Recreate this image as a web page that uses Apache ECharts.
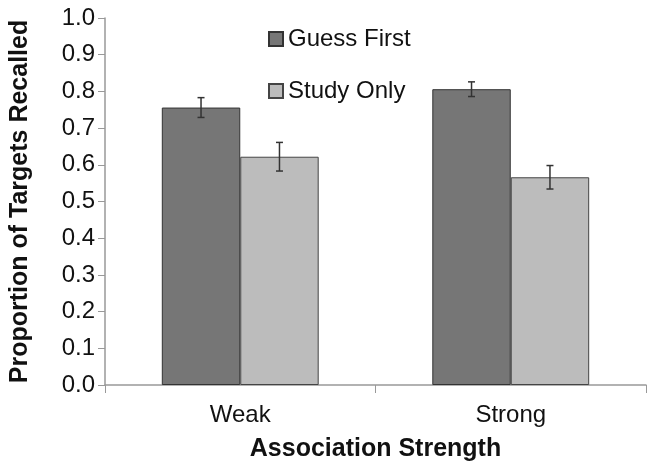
<!DOCTYPE html>
<html>
<head>
<meta charset="utf-8">
<script src="https://cdn.jsdelivr.net/npm/echarts@6/dist/echarts.min.js"></script>
<style>html,body{margin:0;padding:0;background:#fff;}#c{width:647px;height:467px;}</style>
</head>
<body>
<div id="c"></div>
<script>
var categories = ['Weak', 'Strong'];
var guessFirst = [0.756, 0.806];
var guessFirstErr = [0.027, 0.02];
var studyOnly = [0.622, 0.566];
var studyOnlyErr = [0.039, 0.032];
var yTicks = [0, 0.1, 0.2, 0.3, 0.4, 0.5, 0.6, 0.7, 0.8, 0.9, 1.0];

var FONT = '"Liberation Sans", Arial, Helvetica, sans-serif';
var GAP = 0.42;

function errSeries(vals, errs, side) {
  var data = vals.map(function (v, i) { return [i, v, errs[i]]; });
  return {
    type: 'custom',
    silent: true,
    z: 10,
    data: data,
    encode: { x: 0, y: 1 },
    renderItem: function (params, api) {
      var i = api.value(0), v = api.value(1), e = api.value(2);
      var band = api.size([1, 0])[0];
      var bw = band * (1 - GAP) / 2;
      var c = api.coord([i, v]);
      var x = c[0] + side * bw / 2;
      var top = api.coord([i, v + e])[1];
      var bot = api.coord([i, v - e])[1];
      var cap = 3.5;
      var st = { stroke: '#333', lineWidth: 1.5 };
      return {
        type: 'group',
        children: [
          { type: 'line', shape: { x1: x, y1: top, x2: x, y2: bot }, style: st },
          { type: 'line', shape: { x1: x - cap, y1: top, x2: x + cap, y2: top }, style: st },
          { type: 'line', shape: { x1: x - cap, y1: bot, x2: x + cap, y2: bot }, style: st }
        ]
      };
    }
  };
}

var chart = echarts.init(document.getElementById('c'), null, { renderer: 'canvas' });
chart.setOption({
  animation: false,
  backgroundColor: '#fff',
  textStyle: { fontFamily: FONT },
  grid: { left: 100, right: 1, top: 18, bottom: 74 },
  legend: {
    orient: 'vertical',
    left: 263,
    top: 22,
    icon: 'rect',
    itemWidth: 14,
    itemHeight: 14,
    itemGap: 28,
    data: ['Guess First', 'Study Only'],
    textStyle: { fontSize: 24, color: '#111', fontFamily: FONT, lineHeight: 24 }
  },
  xAxis: {
    type: 'category',
    data: categories,
    name: 'Association Strength',
    nameLocation: 'middle',
    nameGap: 52,
    nameTextStyle: { fontSize: 25, fontWeight: 'bold', color: '#111', fontFamily: FONT },
    axisLine: { lineStyle: { color: '#999', width: 1.5 } },
    axisTick: { show: true, length: 8, lineStyle: { color: '#999' } },
    axisLabel: { fontSize: 24, color: '#111', margin: 18, fontFamily: FONT }
  },
  yAxis: {
    type: 'value',
    min: 0,
    max: 1,
    interval: 0.1,
    name: 'Proportion of Targets Recalled',
    nameLocation: 'middle',
    nameGap: 72,
    nameTextStyle: { fontSize: 25, fontWeight: 'bold', color: '#111', fontFamily: FONT },
    axisLine: { show: true, lineStyle: { color: '#999', width: 1.5 } },
    axisTick: { show: true, length: 7, lineStyle: { color: '#999' } },
    splitLine: { show: false },
    axisLabel: {
      fontSize: 24, color: '#111', margin: 10, fontFamily: FONT,
      formatter: function (v) { return v.toFixed(1); }
    }
  },
  series: [
    {
      name: 'Guess First', type: 'bar', data: guessFirst,
      barGap: '0%', barCategoryGap: (GAP * 100) + '%',
      itemStyle: { color: '#767676', borderColor: '#333', borderWidth: 1 }
    },
    {
      name: 'Study Only', type: 'bar', data: studyOnly,
      itemStyle: { color: '#bcbcbc', borderColor: '#444', borderWidth: 1 }
    },
    errSeries(guessFirst, guessFirstErr, -1),
    errSeries(studyOnly, studyOnlyErr, 1)
  ]
});
</script>
</body>
</html>
